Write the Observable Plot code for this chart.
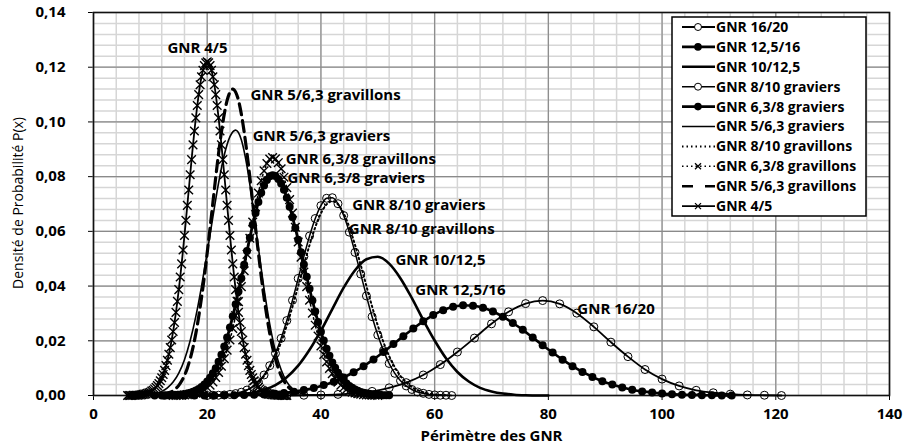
<!DOCTYPE html>
<html><head><meta charset="utf-8">
<script src="https://cdn.jsdelivr.net/npm/d3@7"></script>
<script src="https://cdn.jsdelivr.net/npm/@observablehq/plot@0.6"></script>
<style>
body{margin:0;background:#fff;}
#wrap{position:relative;width:907px;height:447px;font-family:"Open Sans",sans-serif;}
#legend{position:absolute;left:0;top:0;pointer-events:none;}
</style></head><body><div id="wrap"></div>
<script>
// ---- data ----
const seriesNames = ["GNR 16/20","GNR 12,5/16","GNR 10/12,5","GNR 8/10 graviers","GNR 6,3/8 graviers","GNR 5/6,3 graviers","GNR 8/10 gravillons","GNR 6,3/8 gravillons","GNR 5/6,3 gravillons","GNR 4/5"];
const xStart = [34, 10.75, 16, 20, 12, 10, 22, 14, 12, 6];
const xStep  = [3, 1.75, 2, 1, 0.5, 1, 1, 0.5, 0.5, 0.25];

const y16_20 = [0.0000,0.0001,0.0002,0.0004,0.0008,0.0015,0.0028,0.0047,0.0075,0.0113,0.0159,0.0210,0.0262,0.0306,0.0336,0.0347,0.0335,0.0301,0.0251,0.0195,0.0142,0.0095,0.0060,0.0035,0.0019,0.0010,0.0005,0.0002,0.0001,0.0000];
const y12_5_16 = [0.0000,0.0000,0.0000,0.0000,0.0000,0.0000,0.0000,0.0001,0.0001,0.0002,0.0003,0.0004,0.0006,0.0009,0.0014,0.0020,0.0027,0.0038,0.0050,0.0066,0.0085,0.0107,0.0132,0.0159,0.0188,0.0217,0.0245,0.0271,0.0294,0.0312,0.0324,0.0330,0.0328,0.0321,0.0307,0.0288,0.0265,0.0240,0.0212,0.0184,0.0157,0.0131,0.0107,0.0086,0.0068,0.0052,0.0040,0.0029,0.0021,0.0015,0.0011,0.0007,0.0005,0.0003,0.0002,0.0001,0.0001,0.0000,0.0000];
const y10_12_5 = [0.0000,0.0000,0.0000,0.0001,0.0002,0.0005,0.0010,0.0021,0.0038,0.0067,0.0109,0.0167,0.0237,0.0316,0.0394,0.0458,0.0498,0.0507,0.0482,0.0428,0.0356,0.0276,0.0201,0.0136,0.0086,0.0051,0.0028,0.0015,0.0007,0.0003,0.0001,0.0000,0.0000];
const y8_10_graviers = [0.0000,0.0001,0.0001,0.0002,0.0004,0.0007,0.0012,0.0020,0.0032,0.0050,0.0075,0.0109,0.0154,0.0209,0.0274,0.0348,0.0428,0.0508,0.0583,0.0647,0.0694,0.0721,0.0723,0.0701,0.0658,0.0597,0.0523,0.0444,0.0364,0.0288,0.0221,0.0164,0.0117,0.0081,0.0054,0.0035,0.0022,0.0013,0.0008,0.0004,0.0002,0.0001,0.0001,0.0000];
const y6_3_8_graviers = [0.0000,0.0000,0.0001,0.0001,0.0001,0.0002,0.0003,0.0004,0.0005,0.0007,0.0010,0.0014,0.0018,0.0024,0.0031,0.0040,0.0051,0.0065,0.0081,0.0100,0.0123,0.0149,0.0179,0.0212,0.0249,0.0290,0.0334,0.0380,0.0429,0.0478,0.0528,0.0577,0.0624,0.0667,0.0707,0.0741,0.0768,0.0788,0.0801,0.0805,0.0802,0.0791,0.0775,0.0752,0.0723,0.0690,0.0652,0.0612,0.0569,0.0524,0.0479,0.0434,0.0390,0.0347,0.0307,0.0269,0.0233,0.0201,0.0171,0.0145,0.0121,0.0101,0.0083,0.0068,0.0055,0.0044,0.0035,0.0028,0.0022,0.0017,0.0013,0.0010,0.0008,0.0006,0.0004,0.0003,0.0002,0.0002,0.0001,0.0001,0.0001];
const y5_6_3_graviers = [0.0004,0.0008,0.0015,0.0028,0.0049,0.0082,0.0131,0.0200,0.0289,0.0399,0.0523,0.0653,0.0777,0.0879,0.0946,0.0970,0.0935,0.0838,0.0698,0.0541,0.0390,0.0261,0.0162,0.0094,0.0050,0.0025,0.0012,0.0005,0.0002,0.0001,0.0000];
const y8_10_gravillons = [0.0001,0.0002,0.0004,0.0007,0.0012,0.0020,0.0031,0.0048,0.0071,0.0103,0.0144,0.0195,0.0256,0.0325,0.0400,0.0477,0.0550,0.0615,0.0666,0.0699,0.0710,0.0699,0.0666,0.0615,0.0550,0.0477,0.0400,0.0325,0.0256,0.0195,0.0144,0.0103,0.0071,0.0048,0.0031,0.0020,0.0012,0.0007,0.0004,0.0002,0.0001];
const y6_3_8_gravillons = [0.0000,0.0000,0.0001,0.0001,0.0002,0.0003,0.0004,0.0005,0.0008,0.0011,0.0015,0.0021,0.0029,0.0038,0.0050,0.0066,0.0084,0.0107,0.0135,0.0166,0.0203,0.0245,0.0292,0.0343,0.0398,0.0456,0.0516,0.0575,0.0634,0.0689,0.0740,0.0785,0.0821,0.0848,0.0864,0.0870,0.0865,0.0851,0.0829,0.0798,0.0760,0.0716,0.0667,0.0615,0.0561,0.0506,0.0451,0.0398,0.0348,0.0301,0.0257,0.0217,0.0181,0.0150,0.0123,0.0099,0.0080,0.0063,0.0049,0.0038,0.0029,0.0022,0.0017,0.0012,0.0009,0.0007,0.0005,0.0003,0.0002,0.0002,0.0001,0.0001,0.0000];
const y5_6_3_gravillons = [0.0003,0.0005,0.0008,0.0012,0.0017,0.0026,0.0037,0.0053,0.0073,0.0100,0.0134,0.0176,0.0227,0.0288,0.0358,0.0436,0.0522,0.0612,0.0705,0.0798,0.0885,0.0963,0.1029,0.1079,0.1109,0.1120,0.1109,0.1079,0.1029,0.0963,0.0885,0.0798,0.0705,0.0612,0.0522,0.0436,0.0358,0.0288,0.0227,0.0176,0.0134,0.0100,0.0073,0.0053,0.0037,0.0026,0.0017,0.0012,0.0008,0.0005,0.0003];
const y4_5 = [0.0000,0.0000,0.0000,0.0000,0.0001,0.0001,0.0001,0.0001,0.0002,0.0002,0.0003,0.0004,0.0005,0.0006,0.0008,0.0010,0.0012,0.0016,0.0019,0.0024,0.0030,0.0036,0.0044,0.0054,0.0065,0.0077,0.0092,0.0109,0.0129,0.0151,0.0175,0.0203,0.0234,0.0267,0.0304,0.0344,0.0387,0.0433,0.0481,0.0532,0.0585,0.0640,0.0695,0.0751,0.0807,0.0862,0.0916,0.0967,0.1015,0.1060,0.1100,0.1136,0.1165,0.1189,0.1206,0.1216,0.1220,0.1216,0.1206,0.1189,0.1165,0.1136,0.1100,0.1060,0.1015,0.0967,0.0916,0.0862,0.0807,0.0751,0.0695,0.0640,0.0585,0.0532,0.0481,0.0433,0.0387,0.0344,0.0304,0.0267,0.0234,0.0203,0.0175,0.0151,0.0129,0.0109,0.0092,0.0077,0.0065,0.0054,0.0044,0.0036,0.0030,0.0024,0.0019,0.0016,0.0012,0.0010,0.0008,0.0006,0.0005,0.0004,0.0003,0.0002,0.0002,0.0001,0.0001,0.0001,0.0001,0.0000,0.0000,0.0000,0.0000];
const seriesY = [y16_20, y12_5_16, y10_12_5, y8_10_graviers, y6_3_8_graviers, y5_6_3_graviers, y8_10_gravillons, y6_3_8_gravillons, y5_6_3_gravillons, y4_5];

const xTicks = [0,20,40,60,80,100,120,140];
const yTicks = [0,0.02,0.04,0.06,0.08,0.10,0.12,0.14];

const labelText = ["GNR 4/5","GNR 5/6,3 gravillons","GNR 5/6,3 graviers","GNR 6,3/8 gravillons","GNR 6,3/8 graviers","GNR 8/10 graviers","GNR 8/10 gravillons","GNR 10/12,5","GNR 12,5/16","GNR 16/20"];
const labelX = [13.0, 27.6, 28.0, 33.8, 34.1, 45.5, 44.9, 53.1, 56.6, 85.1];
const labelY = [0.1268, 0.1096, 0.0947, 0.0865, 0.0794, 0.0697, 0.0609, 0.0496, 0.0386, 0.0317];

// ---- styles ----
const styles = {
  "GNR 16/20":            {w:1.8, marker:"open"},
  "GNR 12,5/16":          {w:2.6, marker:"filled"},
  "GNR 10/12,5":          {w:2.6},
  "GNR 8/10 graviers":    {w:1.5, marker:"open"},
  "GNR 6,3/8 graviers":   {w:2.8, marker:"filled"},
  "GNR 5/6,3 graviers":   {w:1.6},
  "GNR 8/10 gravillons":  {w:2, dash:"1.5,3"},
  "GNR 6,3/8 gravillons": {w:1.5, dash:"1.5,3", marker:"times"},
  "GNR 5/6,3 gravillons": {w:3.2, dash:"11,6"},
  "GNR 4/5":              {w:1.8, marker:"times"}
};

const rows = [];
seriesNames.forEach((name, s) => seriesY[s].forEach((v, i) => rows.push({series: name, x: xStart[s] + i * xStep[s], y: v})));

const xMinor = d3.range(0, 141, 4);
const yMinor = d3.range(0, 0.1401, 0.004);

const marks = [
  Plot.ruleX(xMinor, {stroke: "#d6d6d6", strokeWidth: 1.5}),
  Plot.ruleY(yMinor, {stroke: "#d6d6d6", strokeWidth: 1.5}),
  Plot.ruleX(xTicks, {stroke: "#8a8a8a", strokeWidth: 1.2}),
  Plot.ruleY(yTicks, {stroke: "#8a8a8a", strokeWidth: 1.2}),
  Plot.frame({stroke: "#111", strokeWidth: 1.6})
];
seriesNames.forEach(name => {
  const st = styles[name];
  const d = rows.filter(r => r.series === name);
  marks.push(Plot.line(d, {x: "x", y: "y", curve: "monotone-x", stroke: "black", strokeWidth: st.w, strokeDasharray: st.dash}));
  if (st.marker === "open") marks.push(Plot.dot(d, {x: "x", y: "y", r: 4, stroke: "black", strokeWidth: 1, fill: "none"}));
  if (st.marker === "filled") marks.push(Plot.dot(d, {x: "x", y: "y", r: 4, fill: "black", stroke: "none"}));
  if (st.marker === "times") marks.push(Plot.dot(d, {x: "x", y: "y", r: 4, symbol: "times", stroke: "black", strokeWidth: 1.4}));
});
marks.push(Plot.text(labelText.map((t, i) => ({t, x: labelX[i], y: labelY[i]})), {x: "x", y: "y", text: "t", textAnchor: "start", lineAnchor: "middle", fontSize: 15, fontWeight: "bold", fill: "black"}));
marks.push(Plot.text(["Périmètre des GNR"], {frameAnchor: "bottom", dy: 41, textAnchor: "middle", lineAnchor: "middle", fontSize: 15, fontWeight: "bold", fill: "black"}));

const chart = Plot.plot({
  width: 907, height: 447,
  marginTop: 12, marginRight: 18, marginBottom: 52, marginLeft: 93,
  style: {fontFamily: "'Open Sans', sans-serif", fontSize: "15px", fontWeight: "bold", color: "black", background: "white"},
  x: {domain: [0, 140], ticks: xTicks, tickSize: 5, tickPadding: 8, label: null, tickFormat: d => String(d)},
  y: {domain: [0, 0.14], ticks: yTicks, tickSize: 5, tickPadding: 23, label: null, tickFormat: d => d.toFixed(2).replace(".", ",")},
  marks
});
const wrap = document.getElementById("wrap");
wrap.appendChild(chart);

// ---- y-axis title and legend (overlay) ----
const lg = d3.select(wrap).append("svg").attr("id", "legend").attr("width", 907).attr("height", 447);
lg.append("text").attr("transform", "translate(18,203) rotate(-90)").attr("text-anchor", "middle").attr("dy", "0.35em")
  .attr("font-size", 14).attr("font-family", "'Open Sans', sans-serif").attr("fill", "black").text("Densité de Probabilité P(x)");
lg.append("rect").attr("x", 672).attr("y", 17).attr("width", 194).attr("height", 199).attr("fill", "white").attr("stroke", "black").attr("stroke-width", 1.5);
seriesNames.forEach((name, i) => {
  const st = styles[name];
  const cy = 27 + i * 19.9;
  const g = lg.append("g");
  g.append("line").attr("x1", 682).attr("x2", 715).attr("y1", cy).attr("y2", cy)
    .attr("stroke", "black").attr("stroke-width", Math.min(st.w, 2.6)).attr("stroke-dasharray", name === "GNR 5/6,3 gravillons" ? "11,12" : (st.dash || null));
  if (st.marker === "open") g.append("circle").attr("cx", 698).attr("cy", cy).attr("r", 3.5).attr("fill", "white").attr("stroke", "black");
  if (st.marker === "filled") g.append("circle").attr("cx", 698).attr("cy", cy).attr("r", 3.8).attr("fill", "black");
  if (st.marker === "times") g.append("path").attr("d", `M${695},${cy-3}L${701},${cy+3}M${695},${cy+3}L${701},${cy-3}`).attr("stroke", "black").attr("stroke-width", 1.3);
  g.append("text").attr("x", 716).attr("y", cy).attr("dy", "0.35em").attr("font-size", 14).attr("font-weight", "bold")
    .attr("font-family", "'Open Sans', sans-serif").text(name);
});
</script></body></html>
